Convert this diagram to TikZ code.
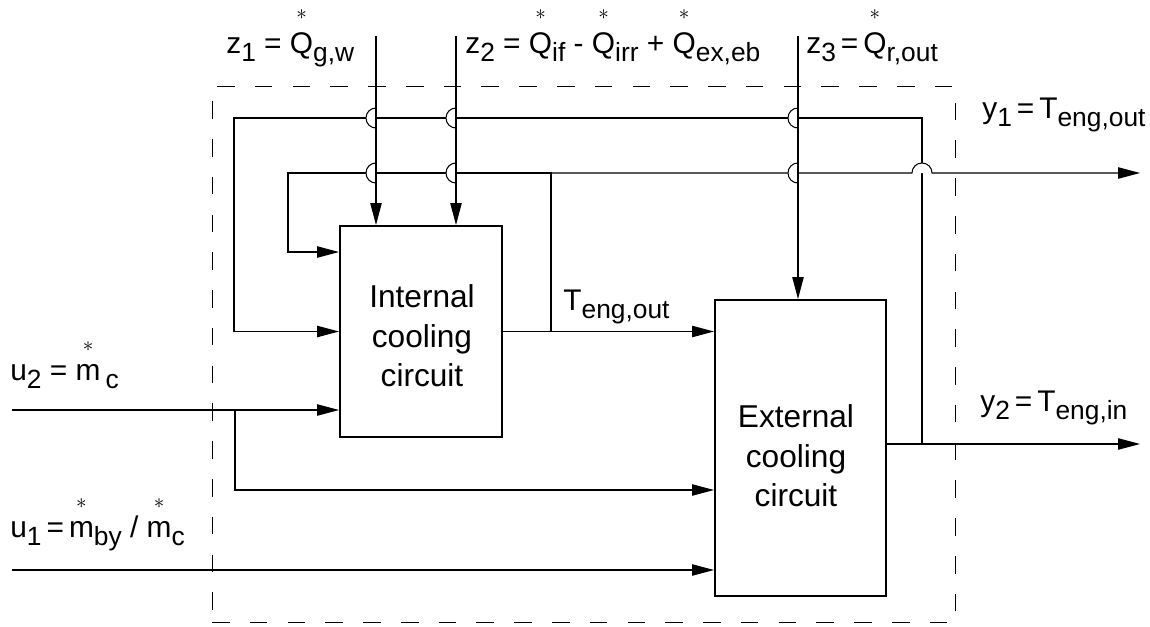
\documentclass[tikz,border=0pt]{standalone}
\usepackage{amsmath}
\usepackage{fontspec}
\setmainfont{Liberation Sans}
\usetikzlibrary{arrows.meta}

\newcommand\rate[1]{\ensuremath{\overset{\raisebox{3.5pt}{$\scriptstyle\ast$}}{\text{#1}}}}
\newcommand\sub[1]{\raisebox{-5pt}{\fontsize{15}{15}\selectfont #1}}
\newlength\hopr
\setlength\hopr{5.7pt}
% line hop to the left of a vertical wire
\newcommand\hopleft[1]{%
  \fill[white] ([yshift=\hopr]#1) arc (90:270:\hopr) -- cycle;
  \draw[wire] ([yshift=\hopr]#1) arc (90:270:\hopr);}

\tikzset{
  wire/.style={line width=0.6pt},
  sig/.style={wire, -{Triangle[length=12.5pt,width=6.5pt]}},
  block/.style={draw, line width=1.2pt, inner sep=0pt},
  border/.style={draw, line width=0.6pt, dash pattern=on 10pt off 11.5pt, inner sep=0pt},
  lbl/.style={anchor=base west, inner sep=0pt},
  blocktext/.style={align=center, inner sep=0pt, font=\fontsize{18}{22.5}\selectfont},
}

\begin{document}
\begin{tikzpicture}[x=0.02cm, y=0.02cm, font=\fontsize{17}{22.5}\selectfont]
  \useasboundingbox (0,0) rectangle (1150,-626);

  % system border and blocks
  \node[border, minimum width=14.88cm, minimum height=10.74cm] (sys) at (584,-354.5) {};
  \node[block, minimum width=3.24cm, minimum height=4.22cm] (int) at (421,-331.5) {};
  \node[block, minimum width=3.42cm, minimum height=5.92cm] (ext) at (800.5,-448) {};
  \node[blocktext] (inttxt) at (422,-336) {Internal\\cooling\\circuit};
  \node[blocktext] (exttxt) at (796,-456) {External\\cooling\\circuit};

  % free ends and branch points
  \coordinate (z1top) at (376,-36);
  \coordinate (z2top) at (456,-36);
  \coordinate (z3top) at (798,-36);
  \coordinate (loopA) at (234,-118);
  \coordinate (loopB) at (288,-173);
  \coordinate (tap) at (551,-331.5);
  \coordinate (cross) at (922,-173);
  \coordinate (y1end) at (1140,-173);
  \coordinate (y2tap) at (922,-444);
  \coordinate (y2end) at (1140,-444);
  \coordinate (u2start) at (12,-410);
  \coordinate (u2tap) at (235,-410);
  \coordinate (u2low) at (235,-490);
  \coordinate (u1start) at (12,-570);

  % feedback loops
  \draw[sig] (y2tap) |- (loopA) |- (int.west);
  \draw[sig] (tap) |- (loopB) |- ([yshift=1.59cm]int.west);
  \fill[white] ([xshift=-\hopr]cross) arc (180:0:\hopr) -- cycle;
  \draw[sig] (tap |- loopB) -- ([xshift=-\hopr]cross) arc (180:0:\hopr) -- (y1end);

  % disturbances from the top
  \foreach \v in {z1top,z2top,z3top}
    \foreach \h in {loopA,loopB}{
      \path (\v |- \h) coordinate (c);
      \hopleft{c}
    }
  \draw[sig] (z1top) -- (z1top |- int.north);
  \draw[sig] (z2top) -- (z2top |- int.north);
  \draw[sig] (z3top) -- (z3top |- ext.north);

  % signal path
  \draw[sig] (int.east) -- (ext.west |- int.east);
  \draw[sig] (u2start) -- (int.west |- u2start);
  \draw[sig] (u2tap) -- (u2low) -- (ext.west |- u2low);
  \draw[sig] (u1start) -- (ext.west |- u1start);
  \draw[sig] (ext.east |- y2end) -- (y2end);

  % labels
  \node[lbl] (z1lbl) at (226,-53) {z\sub{1} = \rate{Q}\sub{g,w}};
  \node[lbl] (z2lbl) at (465,-53) {z\sub{2} = \rate{Q}\sub{if} - \rate{Q}\sub{irr} + \rate{Q}\sub{ex,eb}};
  \node[lbl] (z3lbl) at (806,-53) {z\sub{3}\,=\,\rate{Q}\sub{r,out}};
  \node[lbl] (y1lbl) at (982,-118) {y\sub{1}\,=\,T\sub{eng,out}};
  \node[lbl] (y2lbl) at (980,-411) {y\sub{2}\,=\,T\sub{eng,in}};
  \node[lbl] (u2lbl) at (10,-380) {u\sub{2} = \rate{m}\,\sub{c}};
  \node[lbl] (u1lbl) at (10,-537) {u\sub{1}\,=\,\rate{m}\sub{by} / \rate{m}\sub{c}};
  \node[lbl] (tlbl) at (563,-310) {T\sub{eng,out}};
\end{tikzpicture}
\end{document}
